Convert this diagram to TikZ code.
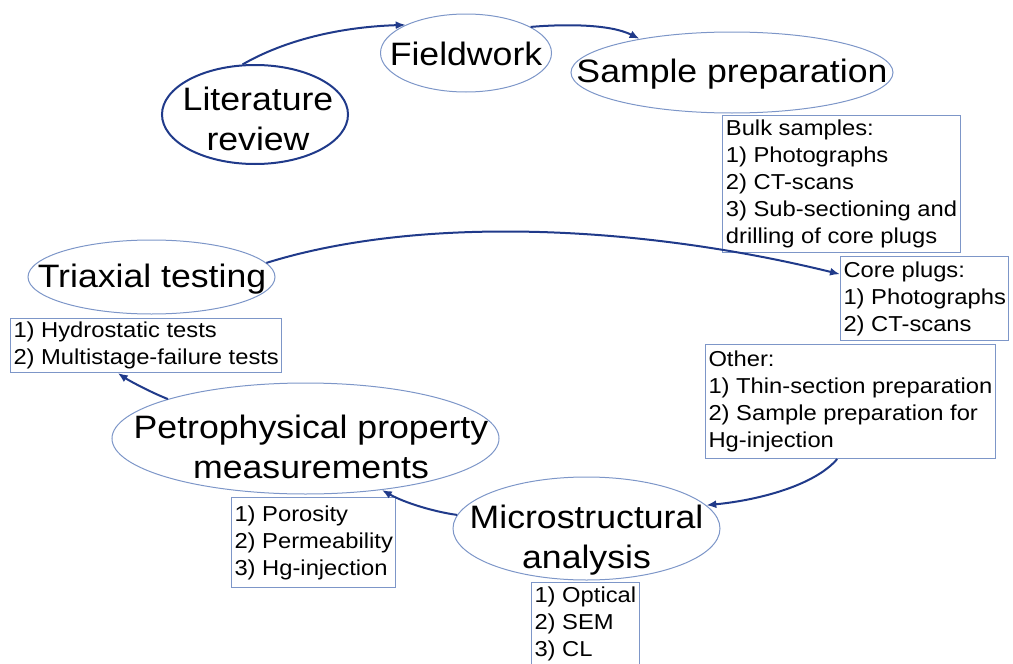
\documentclass[tikz,border=0pt]{standalone}
\usepackage{fontspec}
\setmainfont{Liberation Sans}[FakeStretch=1.1]
\usetikzlibrary{shapes.geometric,arrows.meta}

\definecolor{flowblue}{RGB}{32,58,138}
\definecolor{edgeblue}{RGB}{125,150,200}

\tikzset{
    stage/.style={ellipse, draw=edgeblue, line width=0.5pt, inner sep=0pt},
    stagetext/.style={align=center, inner sep=0pt, font=\fontsize{16.2}{20}\selectfont},
    listbox/.style={rectangle, draw=edgeblue, line width=0.5pt, anchor=north west,
        align=left, inner sep=1.5pt, font=\fontsize{10.8}{13.5}\selectfont},
    flow/.style={draw=flowblue, line width=1pt, -{Latex[length=5pt,width=4pt]}}
}

\begin{document}
\begin{tikzpicture}[x=0.5pt,y=-0.5pt]
    \clip (0,0) rectangle (1013,664);

    % Stages of the workflow
    \node[stage, draw=flowblue, line width=1pt, minimum width=93pt, minimum height=49.5pt] (lit) at (255,114.5) {};
    \node[stagetext] (littext) at (258,119) {Literature\\review};
    \node[stage, minimum width=85.5pt, minimum height=39pt] (field) at (466,53) {};
    \node[stagetext] (fieldtext) at (466,53.5) {Fieldwork};
    \node[stage, minimum width=161pt, minimum height=40.5pt] (samp) at (732,72.5) {};
    \node[stagetext] (samptext) at (732,74) {Sample preparation};
    \node[stage, minimum width=133.5pt, minimum height=51.5pt] (micro) at (586.5,528.5) {};
    \node[stagetext] (microtext) at (586.5,540) {Microstructural\\analysis};
    \node[stage, minimum width=193.5pt, minimum height=55.5pt] (petro) at (305.5,438.5) {};
    \node[stagetext] (petrotext) at (311,447) {Petrophysical property\\measurements};
    \node[stage, minimum width=123.5pt, minimum height=37pt] (tri) at (151.5,277) {};
    \node[stagetext] (tritext) at (152,279) {Triaxial testing};

    % Lists of steps
    \node[listbox, minimum width=119pt, minimum height=68.5pt] (bulk) at (722,115)
        {Bulk samples:\\1) Photographs\\2) CT-scans\\3) Sub-sectioning and\\drilling of core plugs};
    \node[listbox, minimum width=84pt, minimum height=42pt] (core) at (840,256)
        {Core plugs:\\1) Photographs\\2) CT-scans};
    \node[listbox, minimum width=144pt, minimum height=57pt] (other) at (705,344)
        {Other:\\1) Thin-section preparation\\2) Sample preparation for\\Hg-injection};
    \node[listbox, minimum width=53pt, minimum height=41pt] (opt) at (531,582)
        {1) Optical\\2) SEM\\3) CL};
    \node[listbox, minimum width=81pt, minimum height=45pt] (poro) at (231,497)
        {1) Porosity\\2) Permeability\\3) Hg-injection};
    \node[listbox, minimum width=134.5pt, minimum height=27pt] (hydro) at (10,318)
        {1) Hydrostatic tests\\2) Multistage-failure tests};

    % Arrows between the stages
    \draw[flow] (lit.104) .. controls (285,40) and (340,27) .. (field.155);
    \draw[flow] (field.22) .. controls (565,24) and (610,24) .. (samp.160);
    \draw[flow] (tri.7) .. controls (420,215) and (640,225) .. (core.164);
    \draw[flow] (other.257) .. controls (815,485) and (760,500) .. (micro.11);
    \draw[flow] (micro.174) .. controls (435,512) and (405,503) .. (petro.326);
    \draw[flow] (petro.164) .. controls (150,392) and (128,380) .. (hydro.224);
\end{tikzpicture}
\end{document}
